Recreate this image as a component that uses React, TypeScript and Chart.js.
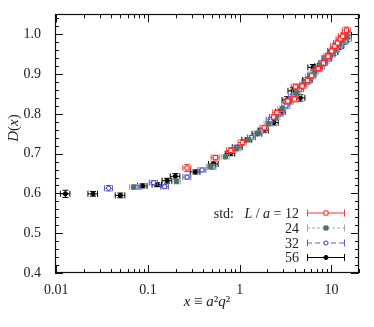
import React, { useEffect, useRef } from "react";
import { Chart, registerables } from "chart.js";

Chart.register(...registerables);

// ---- data ----
const seriesLabels = ["12", "24", "32", "56"];

const redX = [0.267, 0.543, 0.8, 1.07, 1.85, 2.35, 2.55, 3.35, 3.95, 4.05, 4.8, 5.5, 6.1, 7.2, 8.2, 9.2, 10.1, 10.9, 11.7, 12.5, 13.3, 14.6];
const redY = [0.664, 0.69, 0.708, 0.728, 0.765, 0.792, 0.803, 0.832, 0.837, 0.868, 0.87, 0.884, 0.896, 0.914, 0.928, 0.945, 0.958, 0.97, 0.978, 0.988, 0.995, 1.01];
const redYErr = [0.009, 0.006, 0.007, 0.007, 0.006, 0.006, 0.006, 0.007, 0.007, 0.007, 0.007, 0.006, 0.006, 0.006, 0.006, 0.007, 0.007, 0.007, 0.007, 0.008, 0.008, 0.008];

const greenX = [0.07, 0.205, 0.48, 0.7, 0.92, 1.25, 1.6, 2.05, 2.5, 2.9, 3.5, 4.2, 5.0, 5.8, 6.6, 7.6, 8.6, 9.7, 10.9, 12.1, 13.3, 14.6];
const greenY = [0.616, 0.63, 0.668, 0.692, 0.712, 0.735, 0.752, 0.775, 0.792, 0.813, 0.83, 0.852, 0.874, 0.893, 0.905, 0.918, 0.933, 0.948, 0.963, 0.975, 0.985, 0.993];
const greenYErr = [0.006, 0.006, 0.005, 0.005, 0.005, 0.005, 0.005, 0.006, 0.006, 0.006, 0.006, 0.006, 0.006, 0.006, 0.006, 0.006, 0.007, 0.007, 0.007, 0.007, 0.007, 0.007];

const blueX = [0.0373, 0.076, 0.115, 0.152, 0.267, 0.389, 0.5, 0.92, 1.35, 1.75, 2.16, 2.7, 3.2, 3.8, 4.5, 5.3, 6.2, 7.0, 8.0, 9.0, 10.0, 11.2, 12.5, 13.8, 15.0];
const blueY = [0.613, 0.616, 0.627, 0.617, 0.641, 0.659, 0.666, 0.716, 0.741, 0.758, 0.785, 0.8, 0.82, 0.843, 0.862, 0.88, 0.899, 0.912, 0.927, 0.938, 0.95, 0.962, 0.972, 0.982, 0.99];
const blueYErr = [0.007, 0.005, 0.005, 0.005, 0.005, 0.005, 0.005, 0.005, 0.005, 0.005, 0.006, 0.006, 0.006, 0.006, 0.006, 0.006, 0.006, 0.006, 0.007, 0.007, 0.007, 0.007, 0.007, 0.008, 0.008];

const blackX = [0.0126, 0.0252, 0.05, 0.0875, 0.126, 0.162, 0.199, 0.329, 0.52, 0.79, 0.95, 1.2, 1.55, 1.83, 2.35, 2.8, 3.29, 3.82, 4.59, 5.5, 6.3, 7.5, 9.0, 10.5, 12.0, 13.5, 14.8];
const blackY = [0.599, 0.599, 0.595, 0.619, 0.622, 0.632, 0.643, 0.654, 0.674, 0.7, 0.716, 0.735, 0.75, 0.758, 0.778, 0.805, 0.835, 0.858, 0.84, 0.885, 0.917, 0.92, 0.94, 0.955, 0.97, 0.985, 0.998];
const blackYErr = [0.009, 0.006, 0.006, 0.005, 0.005, 0.006, 0.007, 0.005, 0.005, 0.005, 0.005, 0.005, 0.005, 0.005, 0.006, 0.006, 0.008, 0.008, 0.008, 0.007, 0.007, 0.007, 0.007, 0.008, 0.008, 0.008, 0.008];

// relative horizontal error per series
const xErrFrac = [0.1, 0.1, 0.1, 0.12];

const yTickValues = [0.4, 0.5, 0.6, 0.7, 0.8, 0.9, 1.0];
const xTickValues = [0.01, 0.1, 1, 10];
const xTickText = ["0.01", "0.1", "1", "10"];

const FONT = "'Liberation Serif', 'DejaVu Serif', serif";

const styles = [
  { marker: "#ff2020", fill: "#ffffff", bar: "#ff3030", style: "rect", r: 2.9, dash: [] as number[] },
  { marker: "#52706a", fill: "#52706a", bar: "#98afa8", style: "rect", r: 2.9, dash: [3, 2] },
  { marker: "#3a3ab4", fill: "#ffffff", bar: "#5a5ad0", style: "circle", r: 2.1, dash: [5, 3] },
  { marker: "#000000", fill: "#000000", bar: "#000000", style: "circle", r: 2.1, dash: [] as number[] },
];

function mk(xs: number[], ys: number[], es: number[], i: number) {
  return xs.map((x, k) => ({ x, y: ys[k], yErr: es[k], xErr: x * xErrFrac[i] }));
}

const errorBarPlugin = {
  id: "errorBars",
  beforeDatasetDraw(chart: any, args: any) {
    const { ctx, scales } = chart;
    const ds = chart.data.datasets[args.index];
    const st = styles[args.index];
    ctx.save();
    ctx.strokeStyle = st.bar;
    ctx.lineWidth = 1;
    const cap = 3;
    for (const p of ds.data) {
      const px = scales.x.getPixelForValue(p.x);
      const py = scales.y.getPixelForValue(p.y);
      const x0 = scales.x.getPixelForValue(p.x - p.xErr);
      const x1 = scales.x.getPixelForValue(p.x + p.xErr);
      const y0 = scales.y.getPixelForValue(p.y - p.yErr);
      const y1 = scales.y.getPixelForValue(p.y + p.yErr);
      ctx.beginPath();
      ctx.moveTo(x0, py); ctx.lineTo(x1, py);
      ctx.moveTo(x0, py - cap); ctx.lineTo(x0, py + cap);
      ctx.moveTo(x1, py - cap); ctx.lineTo(x1, py + cap);
      ctx.moveTo(px, y0); ctx.lineTo(px, y1);
      ctx.moveTo(px - cap, y0); ctx.lineTo(px + cap, y0);
      ctx.moveTo(px - cap, y1); ctx.lineTo(px + cap, y1);
      ctx.stroke();
    }
    ctx.restore();
  },
};

function drawPieces(ctx: CanvasRenderingContext2D, pieces: [string, boolean][], rightX: number, y: number, size = 14) {
  let total = 0;
  const ws = pieces.map(([t, it]) => {
    ctx.font = `${it ? "italic " : ""}${size}px ${FONT}`;
    const w = ctx.measureText(t).width;
    total += w;
    return w;
  });
  let x = rightX - total;
  pieces.forEach(([t, it], i) => {
    ctx.font = `${it ? "italic " : ""}${size}px ${FONT}`;
    ctx.fillText(t, x, y);
    x += ws[i];
  });
  return total;
}

function measurePieces(ctx: CanvasRenderingContext2D, pieces: [string, boolean][], size: number) {
  let tw = 0;
  pieces.forEach(([t, it]) => { ctx.font = `${it ? "italic " : ""}${size}px ${FONT}`; tw += ctx.measureText(t).width; });
  return tw;
}

const framePlugin = {
  id: "frameTicks",
  afterDraw(chart: any) {
    const { ctx, chartArea, scales } = chart;
    const { left, right, top, bottom } = chartArea;
    ctx.save();
    ctx.strokeStyle = "#111";
    ctx.lineWidth = 1;
    ctx.beginPath();
    // y ticks
    for (let i = 0; i <= 32; i++) {
      const v = 0.4 + i * 0.02;
      if (v > 1.051) break;
      const p = Math.round(scales.y.getPixelForValue(v)) + 0.5;
      const len = i % 5 === 0 ? 8 : 4;
      ctx.moveTo(left, p); ctx.lineTo(left + len, p);
      ctx.moveTo(right, p); ctx.lineTo(right - len, p);
    }
    // x ticks
    for (let e = -3; e <= 1; e++) {
      for (let m = 1; m <= 9; m++) {
        const v = m * Math.pow(10, e);
        if (v < scales.x.min || v > scales.x.max) continue;
        const p = Math.round(scales.x.getPixelForValue(v)) + 0.5;
        const len = m === 1 ? 8 : 4;
        ctx.moveTo(p, bottom); ctx.lineTo(p, bottom - len);
        ctx.moveTo(p, top); ctx.lineTo(p, top + len);
      }
    }
    ctx.stroke();
    ctx.lineWidth = 1.2;
    ctx.strokeRect(Math.round(left) + 0.5, Math.round(top) + 0.5, Math.round(right - left) - 1, Math.round(bottom - top) - 1);

    // axis titles
    ctx.fillStyle = "#222";
    ctx.textBaseline = "alphabetic";
    const cx = (left + right) / 2;
    const xt: [string, boolean][] = [["x", true], [" \u2261 ", false], ["a", true], ["\u00b2", false], ["q", true], ["\u00b2", false]];
    const tw = measurePieces(ctx, xt, 15);
    drawPieces(ctx, xt, cx + tw / 2, 306, 15);

    ctx.save();
    ctx.translate(18, 128);
    ctx.rotate(-Math.PI / 2);
    const yt: [string, boolean][] = [["D", true], ["(", false], ["x", true], [")", false]];
    const yw = measurePieces(ctx, yt, 15);
    drawPieces(ctx, yt, yw / 2, 0, 15);
    ctx.restore();

    // legend
    const rows = [213, 228, 243, 257.5];
    const lx0 = 307, lx1 = 345, lm = 326;
    rows.forEach((ry, i) => {
      const st = styles[i];
      ctx.fillStyle = "#222";
      ctx.textBaseline = "middle";
      const pieces: [string, boolean][] = i === 0
        ? [["std:   ", false], ["L", true], [" / ", false], ["a", true], [" = " + seriesLabels[i], false]]
        : [[seriesLabels[i], false]];
      drawPieces(ctx, pieces, 299, ry + 1);
      ctx.strokeStyle = st.bar;
      ctx.lineWidth = 1;
      ctx.setLineDash(st.dash);
      ctx.beginPath();
      ctx.moveTo(lx0, ry); ctx.lineTo(lx1, ry);
      ctx.stroke();
      ctx.setLineDash([]);
      ctx.beginPath();
      ctx.moveTo(lx0 + 0.5, ry - 3.5); ctx.lineTo(lx0 + 0.5, ry + 3.5);
      ctx.moveTo(lx1 - 0.5, ry - 3.5); ctx.lineTo(lx1 - 0.5, ry + 3.5);
      ctx.stroke();
      ctx.strokeStyle = st.marker;
      ctx.fillStyle = st.fill;
      ctx.beginPath();
      if (st.style === "rect") {
        const s = st.r * Math.SQRT1_2;
        ctx.rect(lm - s, ry - s, 2 * s, 2 * s);
      } else {
        ctx.arc(lm, ry, st.r, 0, Math.PI * 2);
      }
      ctx.fill();
      ctx.stroke();
    });
    ctx.restore();
  },
};

export default function App() {
  const ref = useRef<HTMLCanvasElement | null>(null);
  useEffect(() => {
    if (!ref.current) return;
    const sets = [
      mk(redX, redY, redYErr, 0),
      mk(greenX, greenY, greenYErr, 1),
      mk(blueX, blueY, blueYErr, 2),
      mk(blackX, blackY, blackYErr, 3),
    ];
    const chart = new Chart(ref.current, {
      type: "scatter",
      data: {
        datasets: sets.map((d, i) => ({
          label: seriesLabels[i],
          data: d,
          pointStyle: styles[i].style as any,
          pointRadius: styles[i].r,
          pointBorderWidth: 1,
          borderColor: styles[i].marker,
          backgroundColor: styles[i].fill,
          pointBackgroundColor: styles[i].fill,
          pointBorderColor: styles[i].marker,
        })),
      },
      options: {
        responsive: false,
        animation: false,
        layout: { padding: { left: 0, right: 15, top: 14, bottom: 0 } },
        plugins: { legend: { display: false }, tooltip: { enabled: false } },
        scales: {
          x: {
            type: "logarithmic",
            min: 0.0097,
            max: 20,
            grid: { display: false },
            border: { display: false },
            afterFit: (s: any) => { s.height = 54; },
            afterBuildTicks: (s: any) => { s.ticks = xTickValues.map((v) => ({ value: v })); },
            ticks: {
              autoSkip: false,
              maxRotation: 0,
              padding: 1,
              color: "#222",
              font: { family: FONT, size: 14 },
              callback: (_v: any, i: number) => xTickText[i],
            },
          },
          y: {
            min: 0.4,
            max: 1.05,
            grid: { display: false },
            border: { display: false },
            afterFit: (s: any) => { s.width = 55; },
            afterBuildTicks: (s: any) => { s.ticks = yTickValues.map((v) => ({ value: v })); },
            ticks: {
              padding: 6,
              color: "#222",
              font: { family: FONT, size: 14 },
              callback: (v: any) => Number(v).toFixed(1),
            },
          },
        },
      },
      plugins: [errorBarPlugin, framePlugin],
    });
    return () => chart.destroy();
  }, []);
  return (
    <div style={{ position: "absolute", left: 0, top: 0, width: 374, height: 327, background: "#fff" }}>
      <canvas ref={ref} width={374} height={327} style={{ display: "block" }} />
    </div>
  );
}
